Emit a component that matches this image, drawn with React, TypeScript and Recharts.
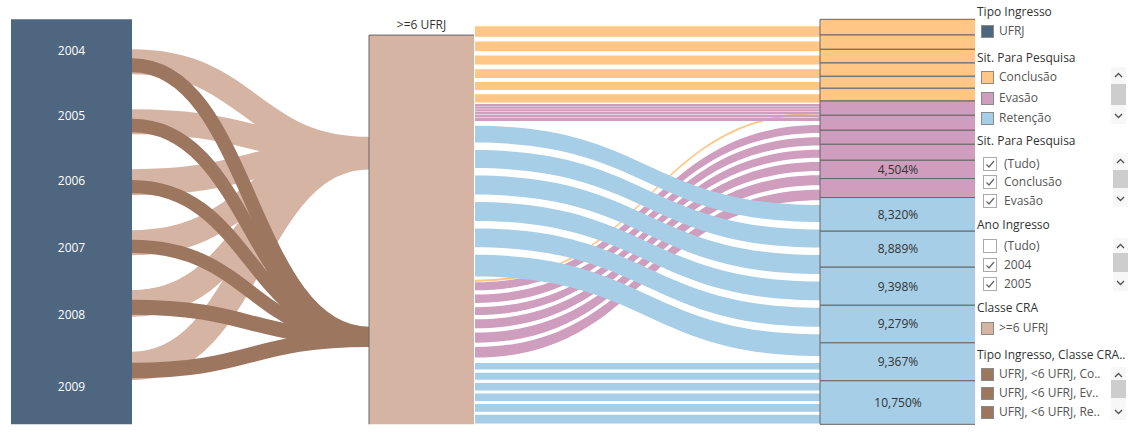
import React from 'react';
import { ComposedChart, Area, Line, XAxis, YAxis, ReferenceArea, ReferenceLine } from 'recharts';

// ---- data (% of total) ----
const years = ['2004', '2005', '2006', '2007', '2008', '2009'];

// Sit. Para Pesquisa per Ano Ingresso (right column)
const conclusao = [3.88, 3.53, 3.38, 3.28, 2.96, 3.14];
const evasao = [3.53, 3.7, 3.46, 3.95, 4.504, 4.69];
const retencao = [8.32, 8.889, 9.398, 9.279, 9.367, 10.75];
// Tableau only drew some of the labels
const evasaoLabel = [false, false, false, false, true, false];
const retencaoLabel = [true, true, true, true, true, true];

// Ano Ingresso -> Classe CRA line sizes
const acimaDe6 = [6.17, 6.17, 6.42, 6.17, 6.57, 7.06]; // >=6 UFRJ
const abaixoDe6 = [3.46, 3.31, 3.28, 3.28, 3.7, 3.8]; // <6 UFRJ

// share of each situation drawn as each kind of ribbon
const shareConclusaoReta = 0.66;
const shareEvasaoReta = 0.15;
const shareEvasaoCurva = 0.56;
const shareRetencaoCurva = 0.5;
const shareRetencaoReta = 0.2;
const conclusaoCurva = 0.5;

// ---- layout (x in chart units, y gaps in %) ----
const W = 975;
const H = 438;
const MARGIN = { top: 19.3, right: 0, bottom: 13.7, left: 0 };
const PX_PER_PCT = (H - MARGIN.top - MARGIN.bottom) / 100;
const COL = { anoL: 11, anoR: 132, craL: 369, craR: 474, sitL: 820, sitR: 976 };
const CRA_TOP = 3.9; // header band above ">=6 UFRJ"
const ANO_START = 7.41;
const ANO_GAP = 8.63;
const ANO_OVERLAP = 0.5;
const CRA_IN_ACIMA = [29.0, 37.1];
const CRA_IN_ABAIXO = [75.9, 80.9];

const C = {
  ano: '#4E6680',
  acima: '#D6B4A4',
  abaixo: '#9D7660',
  conclusao: '#FFC685',
  evasao: '#CF9DBE',
  retencao: '#A6CEE6',
  border: '#666666',
};

const sum = (a: number[]) => a.reduce((s, v) => s + v, 0);
const fmt = (v: number) => v.toFixed(3).replace('.', ',') + '%';

type Ribbon = { key: string; color: string; x0: number; x1: number; from: number[]; to: number[] };
type Stroke = { key: string; color: string; y0: number; y1: number; size: number };

// stack a list of thicknesses from a start with a gap, returns [top, bottom] pairs
const stack = (start: number, sizes: number[], gap: number) => {
  let y = start;
  return sizes.map((s) => {
    const band = [y, y + s];
    y += s + gap;
    return band;
  });
};

// line centres fanned inside a band so the outer lines touch its edges
const fan = (band: number[], sizes: number[]) => {
  const a = band[0] + sizes[0] / 2;
  const b = band[1] - sizes[sizes.length - 1] / 2;
  return sizes.map((_, i) => a + ((b - a) * i) / (sizes.length - 1));
};

// ---- left column: Ano Ingresso ----
const yearTotals = years.map((_, i) => conclusao[i] + evasao[i] + retencao[i]);
const anoSegments = stack(0, yearTotals, 0);

// ---- Ano -> Classe CRA lines ----
const acimaBands = stack(ANO_START, acimaDe6, ANO_GAP);
const acimaEnd = fan(CRA_IN_ACIMA, acimaDe6);
const abaixoEnd = fan(CRA_IN_ABAIXO, abaixoDe6);
const linesAno: Stroke[] = [
  ...years.map((y, i) => ({
    key: 'a' + y,
    color: C.acima,
    y0: (acimaBands[i][0] + acimaBands[i][1]) / 2,
    y1: acimaEnd[i],
    size: acimaDe6[i],
  })),
  ...years.map((y, i) => ({
    key: 'b' + y,
    color: C.abaixo,
    y0: acimaBands[i][1] - ANO_OVERLAP - abaixoDe6[i] / 2,
    y1: abaixoEnd[i],
    size: abaixoDe6[i],
  })),
];

// ---- right column: Sit. Para Pesquisa ----
const sitValues = [...conclusao, ...evasao, ...retencao];
const sitSegments = stack(0, sitValues, 0);
const sitColor = (i: number) => (i < 6 ? C.conclusao : i < 12 ? C.evasao : C.retencao);
const sitLabel = (i: number) =>
  i < 6 ? false : i < 12 ? evasaoLabel[i - 6] : retencaoLabel[i - 12];

// ---- Classe CRA -> Sit ribbons ----
const evasaoTop = sum(conclusao);
const laranjaReta = conclusao.map((v, i) => {
  const bottom = sitSegments[i][1] + 0.4;
  return [bottom - v * shareConclusaoReta, bottom];
});
const rosaReta = stack(evasaoTop + 0.74, evasao.map((v) => v * shareEvasaoReta), 0.12);
const rosaRetaEnd = rosaReta[5][1];

const azulCurvaL = stack(rosaRetaEnd + 1.2, retencao.map((v) => v * shareRetencaoCurva), 1.85);
const laranjaCurvaL = azulCurvaL[5][1] + 0.8;
const rosaCurvaL = stack(laranjaCurvaL + conclusaoCurva + 0.1, evasao.map((v) => v * shareEvasaoCurva), 1.05);
const azulReta = stack(rosaCurvaL[5][1] + 1.3, retencao.map((v) => v * shareRetencaoReta), 0.75);

const rosaCurvaR = stack(rosaRetaEnd + 1.0, evasao.map((v) => v * shareEvasaoCurva), 1.05);
const azulCurvaR = stack(rosaCurvaR[5][1] + 1.2, retencao.map((v) => v * shareRetencaoCurva), 1.85);
const laranjaCurvaR = (rosaReta[0][0] + rosaRetaEnd) / 2;

const mid = (key: string, color: string, from: number[], to: number[]): Ribbon => ({
  key, color, x0: COL.craR + 1, x1: COL.sitL, from, to,
});

const ribbonsSit: Ribbon[] = [
  mid('lc', C.conclusao, [laranjaCurvaL, laranjaCurvaL + conclusaoCurva], [laranjaCurvaR, laranjaCurvaR + conclusaoCurva]),
  ...years.map((y, i) => mid('rc' + y, C.evasao, rosaCurvaL[i], rosaCurvaR[i])),
  ...years.map((y, i) => mid('ac' + y, C.retencao, azulCurvaL[i], azulCurvaR[i])),
  ...years.map((y, i) => mid('lr' + y, C.conclusao, laranjaReta[i], laranjaReta[i])),
  ...years.map((y, i) => mid('rr' + y, C.evasao, rosaReta[i], rosaReta[i])),
  ...years.map((y, i) => mid('ar' + y, C.retencao, azulReta[i], azulReta[i])),
];

// ---- legend ----
const FONT = '"Open Sans", Lato, sans-serif';

const Title = ({ y, children }: { y: number; children: React.ReactNode }) => (
  <div style={{ position: 'absolute', left: 977, top: y - 8, height: 16, lineHeight: '16px', fontSize: 12, color: '#333', whiteSpace: 'nowrap' }}>
    {children}
  </div>
);

const Swatch = ({ y, color, label }: { y: number; color: string; label: string }) => (
  <>
    <div style={{ position: 'absolute', left: 981, top: y - 6, width: 13, height: 13, background: color, border: '1px solid #8a8a8a', boxSizing: 'border-box' }} />
    <div style={{ position: 'absolute', left: 999, top: y - 8, height: 16, lineHeight: '16px', fontSize: 12, color: '#555', whiteSpace: 'nowrap' }}>{label}</div>
  </>
);

const Check = ({ y, checked, label }: { y: number; checked: boolean; label: string }) => (
  <>
    <div style={{ position: 'absolute', left: 983, top: y - 7, width: 14, height: 14, border: '1px solid #aaa', background: '#fff', boxSizing: 'border-box' }}>
      {checked && (
        <svg width={12} height={12} style={{ position: 'absolute', left: 0, top: 0 }}>
          <path d="M2.5 6.5 L5 9 L10 3" stroke="#666" strokeWidth={1.3} fill="none" />
        </svg>
      )}
    </div>
    <div style={{ position: 'absolute', left: 1004, top: y - 8, height: 16, lineHeight: '16px', fontSize: 12, color: '#555', whiteSpace: 'nowrap' }}>{label}</div>
  </>
);

const Scroll = ({ x, top, bottom, thumbTop, thumbBottom }: { x: number; top: number; bottom: number; thumbTop: number; thumbBottom: number }) => (
  <div style={{ position: 'absolute', left: x, top, width: 15, height: bottom - top, background: '#f7f7f7' }}>
    <svg width={15} height={bottom - top} style={{ position: 'absolute', left: 0, top: 0 }}>
      <rect x={0} y={thumbTop - top} width={15} height={thumbBottom - thumbTop} fill="#cdcdcd" />
      <path d="M4 10 L7.5 6.5 L11 10" stroke="#555" strokeWidth={1.4} fill="none" />
      <path d={`M4 ${bottom - top - 10} L7.5 ${bottom - top - 6.5} L11 ${bottom - top - 10}`} stroke="#555" strokeWidth={1.4} fill="none" />
    </svg>
  </div>
);

const sitLegend = [
  { label: 'Conclusão', color: C.conclusao },
  { label: 'Evasão', color: C.evasao },
  { label: 'Retenção', color: C.retencao },
];
const sitFilter = [
  { label: '(Tudo)', checked: true },
  { label: 'Conclusão', checked: true },
  { label: 'Evasão', checked: true },
];
const anoFilter = [
  { label: '(Tudo)', checked: false },
  { label: '2004', checked: true },
  { label: '2005', checked: true },
];
const tipoClasse = ['UFRJ, <6 UFRJ, Co..', 'UFRJ, <6 UFRJ, Ev..', 'UFRJ, <6 UFRJ, Re..'];

export default function App() {
  return (
    <div style={{ position: 'absolute', left: 0, top: 0, width: 1144, height: 438, background: '#fff', fontFamily: FONT, overflow: 'hidden' }}>
      <ComposedChart width={W} height={H} margin={MARGIN}>
        <XAxis type="number" dataKey="x" domain={[0, W]} allowDataOverflow hide />
        <YAxis type="number" domain={[0, 100]} reversed allowDataOverflow hide />

        {linesAno.map((l) => (
          <Line
            key={l.key}
            data={[
              { x: COL.anoR, y: l.y0 },
              { x: COL.craL, y: l.y1 },
            ]}
            dataKey="y"
            type="bumpX"
            stroke={l.color}
            strokeWidth={l.size * PX_PER_PCT}
            dot={false}
            activeDot={false}
            isAnimationActive={false}
          />
        ))}

        {ribbonsSit.map((r) => (
          <Area
            key={r.key}
            data={[
              { x: r.x0, band: r.from },
              { x: r.x1, band: r.to },
            ]}
            dataKey="band"
            type="bumpX"
            fill={r.color}
            fillOpacity={1}
            stroke="none"
            dot={false}
            activeDot={false}
            isAnimationActive={false}
          />
        ))}

        <ReferenceArea
          x1={COL.anoL}
          x2={COL.anoR}
          y1={0}
          y2={100}
          fill={C.ano}
          fillOpacity={1}
          stroke="none"
          ifOverflow="visible"
        />
        {years.map((y, i) => (
          <ReferenceArea
            key={'ano' + y}
            x1={COL.anoL}
            x2={COL.anoR}
            y1={anoSegments[i][0]}
            y2={anoSegments[i][1]}
            fill="none"
            fillOpacity={0}
            stroke="none"
            ifOverflow="visible"
            label={{ value: y, position: 'center', fill: '#fff', fontSize: 12, fontFamily: FONT }}
          />
        ))}

        <ReferenceArea
          x1={COL.craL}
          x2={COL.craR}
          y1={CRA_TOP}
          y2={100}
          fill={C.acima}
          fillOpacity={1}
          stroke="none"
          ifOverflow="visible"
          label={{ value: '>=6 UFRJ', position: 'top', offset: 6, fill: '#333', fontSize: 12, fontFamily: FONT }}
        />
        <ReferenceLine segment={[{ x: COL.craL, y: CRA_TOP }, { x: COL.craR, y: CRA_TOP }]} stroke={C.border} ifOverflow="visible" />
        <ReferenceLine segment={[{ x: COL.craL, y: CRA_TOP }, { x: COL.craL, y: 100 }]} stroke={C.border} ifOverflow="visible" />

        {sitSegments.map((s, i) => (
          <ReferenceArea
            key={'sit' + i}
            x1={COL.sitL}
            x2={COL.sitR}
            y1={s[0]}
            y2={s[1]}
            fill={sitColor(i)}
            fillOpacity={1}
            stroke={C.border}
            strokeWidth={1}
            ifOverflow="visible"
            label={sitLabel(i) ? { value: fmt(sitValues[i]), position: 'center', fill: '#333', fontSize: 12, fontFamily: FONT } : undefined}
          />
        ))}
      </ComposedChart>

      <Title y={12}>Tipo Ingresso</Title>
      <Swatch y={31} color={C.ano} label="UFRJ" />

      <Title y={58}>Sit. Para Pesquisa</Title>
      {sitLegend.map((s, i) => (
        <Swatch key={s.label} y={77 + i * 20.5} color={s.color} label={s.label} />
      ))}
      <Scroll x={1111} top={67} bottom={124} thumbTop={84} thumbBottom={105} />

      <Title y={141}>Sit. Para Pesquisa</Title>
      <div style={{ position: 'absolute', left: 0, top: 153, width: 1110, height: 55, overflow: 'hidden' }}>
        <div style={{ position: 'absolute', left: 0, top: -153 }}>
          {sitFilter.map((f, i) => (
            <Check key={f.label} y={163.5 + i * 18.5} checked={f.checked} label={f.label} />
          ))}
        </div>
      </div>
      <Scroll x={1113} top={153} bottom={207} thumbTop={170} thumbBottom={188} />

      <Title y={225}>Ano Ingresso</Title>
      <div style={{ position: 'absolute', left: 0, top: 238, width: 1110, height: 53, overflow: 'hidden' }}>
        <div style={{ position: 'absolute', left: 0, top: -238 }}>
          {anoFilter.map((f, i) => (
            <Check key={f.label} y={246 + i * 19.2} checked={f.checked} label={f.label} />
          ))}
        </div>
      </div>
      <Scroll x={1113} top={238} bottom={291} thumbTop={253} thumbBottom={272} />

      <Title y={308}>Classe CRA</Title>
      <Swatch y={328} color={C.acima} label=">=6 UFRJ" />

      <Title y={355}>Tipo Ingresso, Classe CRA..</Title>
      {tipoClasse.map((t, i) => (
        <Swatch key={t} y={374 + i * 19.2} color={C.abaixo} label={t} />
      ))}
      <Scroll x={1111} top={367} bottom={420} thumbTop={380} thumbBottom={398} />
    </div>
  );
}
